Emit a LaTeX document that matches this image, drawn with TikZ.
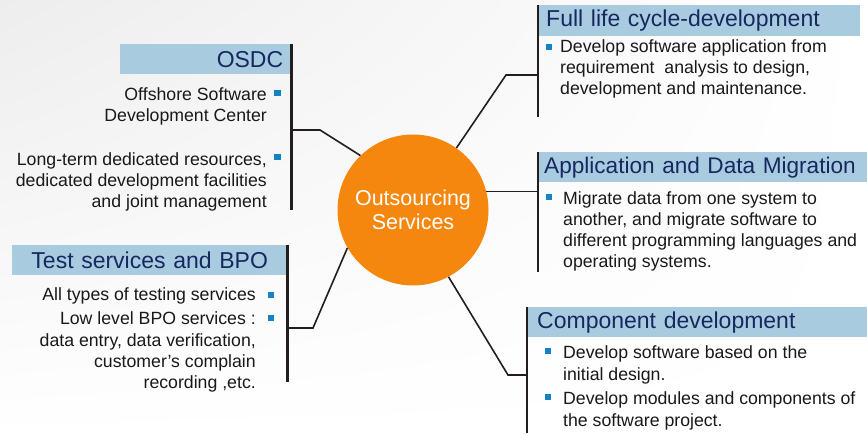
\documentclass[tikz,border=0pt]{standalone}
\usepackage{fontspec}
\setmainfont{Liberation Sans}
\usepackage{xcolor}
\usetikzlibrary{positioning,calc,shadings}
\definecolor{headfill}{RGB}{169,203,224}
\definecolor{headtext}{RGB}{22,40,96}
\definecolor{sqblue}{RGB}{20,130,196}
\definecolor{hubfill}{RGB}{245,135,14}
\definecolor{linedark}{RGB}{35,30,30}
\definecolor{bodytext}{RGB}{25,25,25}

\begin{document}
\begin{tikzpicture}[x=1pt, y=-1pt,
  head/.style={rectangle, fill=headfill, text=headtext, font=\fontsize{23}{27}\selectfont, minimum height=30pt, inner ysep=0pt, anchor=north west},
  txt/.style={font=\fontsize{17.7}{21.2}\selectfont, text=bodytext, inner sep=0pt},
  sq/.style={rectangle, fill=sqblue, minimum size=6.5pt, inner sep=0pt},
  rule/.style={draw=linedark, line width=2.6pt},
  conn/.style={draw=linedark, line width=1.6pt},
  hubnode/.style={circle, fill=hubfill, text=white, minimum size=151pt, inner sep=0pt, font=\fontsize{21.5}{23.5}\selectfont, align=center}
]
\useasboundingbox (0,0) rectangle (867,435);
\shade[upper left=black!7, upper right=white, lower left=white, lower right=white] (0,0) rectangle (867,435);

\node[hubnode] (hub) at (413,210) {Outsourcing\\Services};

\node[head, text width=155pt, align=right, inner xsep=8pt] (osdc) at (120,44) {OSDC};
\coordinate (osdcend) at (291,210);
\coordinate (osdcknee) at (320,130);
\draw[rule] (osdc.north east) -- (osdc.north east |- osdcend);
\draw[conn] (osdc.east |- osdcknee) -- (osdcknee) -- (hub.134);
\node[txt, align=right, anchor=base east] (osdcone) at (267,121.5) {Offshore Software\\Development Center};
\node[txt, align=right, anchor=base east] (osdctwo) at (267,207.5) {Long-term dedicated resources,\\dedicated development facilities\\and joint management};
\node[sq] (osdcsqone) at (277.5,93) {};
\node[sq] (osdcsqtwo) at (277.5,157) {};

\node[head, text width=275pt, align=center, inner xsep=0pt] (test) at (12,245) {Test services and BPO};
\coordinate (testend) at (287,382);
\coordinate (testknee) at (313,328);
\draw[rule] (test.north east) -- (test.north east |- testend);
\draw[conn] (test.east |- testknee) -- (testknee) -- (hub.210);
\node[txt, align=right, anchor=base east] (testone) at (256,301) {All types of testing services};
\node[txt, align=right, anchor=base east] (testtwo) at (256,388.5) {Low level BPO services :\\data entry, data verification,\\customer’s complain\\recording ,etc.};
\node[sq] (testsqone) at (271,295) {};
\node[sq] (testsqtwo) at (271,318) {};

\node[head, text width=306pt, align=left, inner xsep=8pt, minimum height=31pt] (full) at (538,5) {Full life cycle-development};
\coordinate (fullend) at (538,117);
\coordinate (fullknee) at (506,75);
\draw[rule] (full.north west) -- (full.north west |- fullend);
\draw[conn] (full.west |- fullknee) -- (fullknee) -- (hub.55);
\node[txt, align=left, anchor=base west] (fullone) at (560,95) {Develop software application from\\requirement~ analysis to design,\\development and maintenance.};
\node[sq] (fullsqone) at (549,47) {};

\node[head, text width=318pt, align=left, inner xsep=6pt, font=\fontsize{22.6}{27}\selectfont] (migration) at (538,152) {\mbox{Application and Data Migration}};
\coordinate (migrationend) at (538,272);
\draw[rule] (migration.north west) -- (migration.north west |- migrationend);
\draw[conn] (migration.west |- hub.14) -- (hub.14);
\node[txt, align=left, anchor=base west] (migrationone) at (563,268) {Migrate data from one system to\\another, and migrate software to\\different programming languages and\\operating systems.};
\node[sq] (migrationsqone) at (549,197) {};

\node[head, text width=320pt, align=left, inner xsep=10pt] (component) at (527,307) {Component development};
\coordinate (componentend) at (527,433);
\coordinate (componentknee) at (508,375);
\draw[rule] (component.north west) -- (component.north west |- componentend);
\draw[conn] (component.west |- componentknee) -- (componentknee) -- (hub.298);
\node[txt, align=left, anchor=base west] (componentone) at (563,380) {Develop software based on the\\initial design.};
\node[txt, align=left, anchor=base west] (componenttwo) at (563,426) {Develop modules and components of\\the software project.};
\node[sq] (componentsqone) at (548,351) {};
\node[sq] (componentsqtwo) at (548,397) {};

\end{tikzpicture}
\end{document}
